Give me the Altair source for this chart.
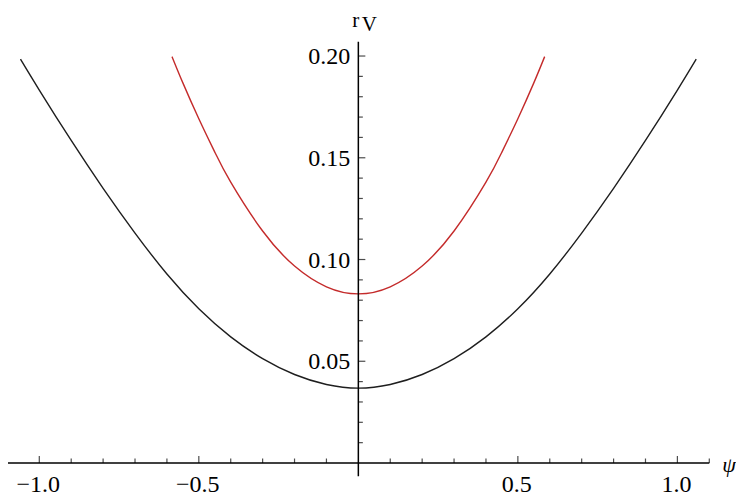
import altair as alt
import pandas as pd

# ---- data ----
psi_black = [-1.059, -1.0, -0.9, -0.8, -0.7, -0.6, -0.5, -0.4, -0.3, -0.2, -0.1, 0.0,
             0.1, 0.2, 0.3, 0.4, 0.5, 0.6, 0.7, 0.8, 0.9, 1.0, 1.059]
r_black = [0.1985, 0.1833, 0.1585, 0.1350, 0.1130, 0.0929, 0.0758, 0.0620, 0.0513, 0.0435, 0.0386, 0.0368,
           0.0386, 0.0435, 0.0513, 0.0620, 0.0758, 0.0929, 0.1130, 0.1350, 0.1585, 0.1833, 0.1985]

psi_red = [-0.584, -0.55, -0.5, -0.45, -0.4, -0.3, -0.2, -0.1, 0.0,
           0.1, 0.2, 0.3, 0.4, 0.45, 0.5, 0.55, 0.584]
r_red = [0.1997, 0.1868, 0.1692, 0.1528, 0.1380, 0.1140, 0.0968, 0.0866, 0.0831,
         0.0866, 0.0968, 0.1140, 0.1380, 0.1528, 0.1692, 0.1868, 0.1997]

x_major = [-1.0, -0.5, 0.5, 1.0]
x_labels = ["\u22121.0", "\u22120.5", "0.5", "1.0"]
y_major = [0.05, 0.10, 0.15, 0.20]
y_labels = ["0.05", "0.10", "0.15", "0.20"]

x_minor = [-1.1, -0.9, -0.8, -0.7, -0.6, -0.4, -0.3, -0.2, -0.1,
           0.1, 0.2, 0.3, 0.4, 0.6, 0.7, 0.8, 0.9, 1.1]
y_minor = [0.01, 0.02, 0.03, 0.04, 0.06, 0.07, 0.08, 0.09, 0.11, 0.12, 0.13, 0.14,
           0.16, 0.17, 0.18, 0.19]

X_DOM = [-1.0981, 1.1837]
Y_DOM = [-0.01916, 0.2236]
X_AXIS_RANGE = [-1.1, 1.1]
Y_AXIS_RANGE = [-0.0065, 0.207]

FONT = "Liberation Serif"

xs = alt.Scale(domain=X_DOM, nice=False, zero=False)
ys = alt.Scale(domain=Y_DOM, nice=False, zero=False)

curves = pd.concat([
    pd.DataFrame({"psi": psi_black, "r": r_black, "s": "black"}),
    pd.DataFrame({"psi": psi_red, "r": r_red, "s": "red"}),
])

lines = alt.Chart(curves).mark_line(interpolate="natural", strokeWidth=1.4).encode(
    x=alt.X("psi:Q", scale=xs, axis=None),
    y=alt.Y("r:Q", scale=ys, axis=None),
    color=alt.Color("s:N", scale=alt.Scale(domain=["black", "red"], range=["#1e1e1e", "#c42b2b"]), legend=None),
    detail="s:N",
    order="psi:Q",
)

xaxis = alt.Chart(pd.DataFrame({"a": [X_AXIS_RANGE[0]], "b": [X_AXIS_RANGE[1]], "y": [0.0]})).mark_rule(
    color="black", strokeWidth=1.5).encode(x=alt.X("a:Q", scale=xs), x2="b:Q", y=alt.Y("y:Q", scale=ys))
yaxis = alt.Chart(pd.DataFrame({"a": [Y_AXIS_RANGE[0]], "b": [Y_AXIS_RANGE[1]], "x": [0.0]})).mark_rule(
    color="black", strokeWidth=1.5).encode(y=alt.Y("a:Q", scale=ys), y2="b:Q", x=alt.X("x:Q", scale=xs))

xmaj = pd.DataFrame({"v": x_major, "lab": x_labels, "z": 0.0})
xmin = pd.DataFrame({"v": x_minor, "z": 0.0})
ymaj = pd.DataFrame({"v": y_major, "lab": y_labels, "z": 0.0})
ymin = pd.DataFrame({"v": y_minor, "z": 0.0})

xmaj_ticks = alt.Chart(xmaj).mark_tick(orient="vertical", size=7, thickness=1.2, color="black", yOffset=-3.5).encode(
    x=alt.X("v:Q", scale=xs), y=alt.Y("z:Q", scale=ys))
xmin_ticks = alt.Chart(xmin).mark_tick(orient="vertical", size=4.5, thickness=1.2, color="black", yOffset=-2.25).encode(
    x=alt.X("v:Q", scale=xs), y=alt.Y("z:Q", scale=ys))
ymaj_ticks = alt.Chart(ymaj).mark_tick(orient="horizontal", size=7, thickness=1.2, color="black", xOffset=3.5).encode(
    y=alt.Y("v:Q", scale=ys), x=alt.X("z:Q", scale=xs))
ymin_ticks = alt.Chart(ymin).mark_tick(orient="horizontal", size=4.5, thickness=1.2, color="black", xOffset=2.25).encode(
    y=alt.Y("v:Q", scale=ys), x=alt.X("z:Q", scale=xs))

xlab = alt.Chart(xmaj).mark_text(font=FONT, fontSize=24, color="black", align="center",
                                 baseline="alphabetic", dy=29, dx=-1).encode(
    x=alt.X("v:Q", scale=xs), y=alt.Y("z:Q", scale=ys), text="lab:N")
ylab = alt.Chart(ymaj).mark_text(font=FONT, fontSize=24, color="black", align="right",
                                 baseline="alphabetic", dx=-8, dy=8).encode(
    y=alt.Y("v:Q", scale=ys), x=alt.X("z:Q", scale=xs), text="lab:N")

psi_lab = alt.Chart(pd.DataFrame({"x": [X_AXIS_RANGE[1]], "y": [0.0], "t": ["\u03c8"]})).mark_text(
    font=FONT, fontSize=22, fontStyle="italic", color="black", align="left", baseline="alphabetic", dx=13, dy=9
).encode(x=alt.X("x:Q", scale=xs), y=alt.Y("y:Q", scale=ys), text="t:N")

r_lab = alt.Chart(pd.DataFrame({"x": [0.0], "y": [0.2], "t": ["r"]})).mark_text(
    font=FONT, fontSize=21, color="black", align="left", baseline="alphabetic", dx=-6, dy=-29
).encode(x=alt.X("x:Q", scale=xs), y=alt.Y("y:Q", scale=ys), text="t:N")
v_lab = alt.Chart(pd.DataFrame({"x": [0.0], "y": [0.2], "t": ["V"]})).mark_text(
    font=FONT, fontSize=21, color="black", align="left", baseline="alphabetic", dx=3.5, dy=-25
).encode(x=alt.X("x:Q", scale=xs), y=alt.Y("y:Q", scale=ys), text="t:N")

chart = alt.layer(
    lines, xaxis, yaxis, xmaj_ticks, xmin_ticks, ymaj_ticks, ymin_ticks, xlab, ylab, psi_lab, r_lab, v_lab
).properties(
    width=728, height=494, padding=0,
    autosize=alt.AutoSizeParams(type="none"), background="white"
).configure_view(stroke=None)

chart.save("out.html", embed_options={"renderer": "svg", "actions": False})
